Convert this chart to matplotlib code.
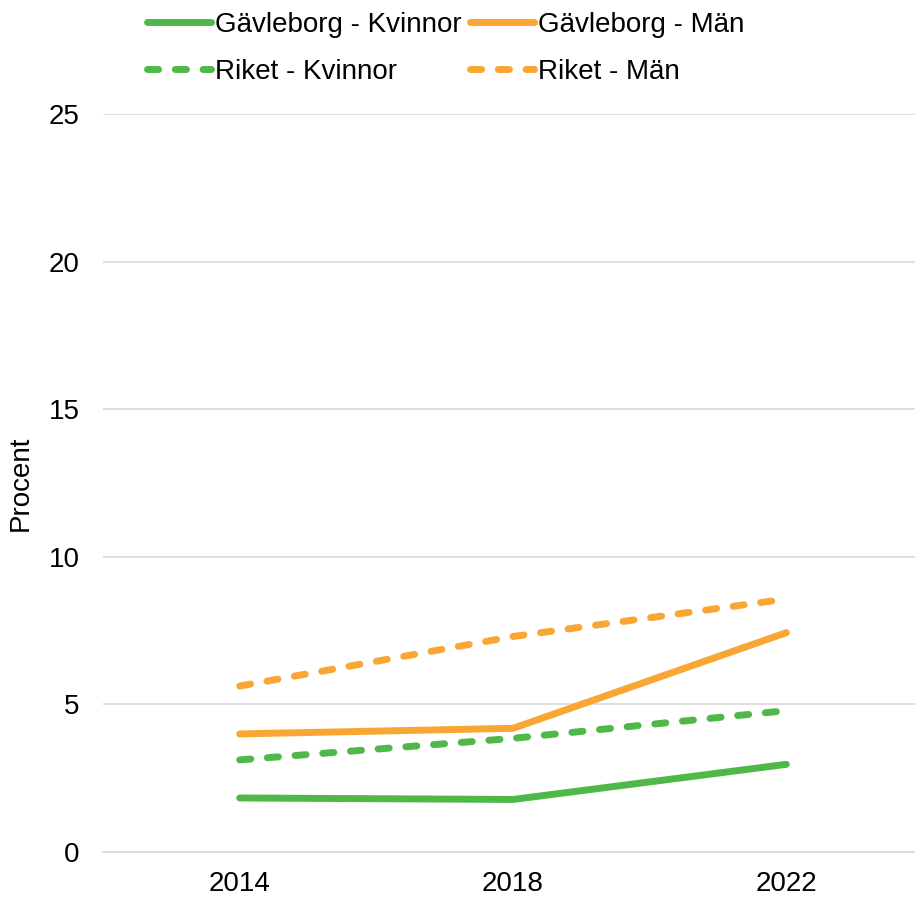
import matplotlib
matplotlib.use("Agg")
import matplotlib.pyplot as plt

years = ["2014", "2018", "2022"]
gavle_kvinnor = [1.83, 1.78, 2.97]
gavle_man = [4.0, 4.19, 7.43]
riket_kvinnor = [3.12, 3.85, 4.79]
riket_man = [5.62, 7.3, 8.57]
yticks = [0, 5, 10, 15, 20, 25]

GREEN = "#50B848"
ORANGE = "#F9A634"

plt.rcParams["font.family"] = ["Liberation Sans", "DejaVu Sans"]

fig = plt.figure(figsize=(9.15, 8.98), dpi=100)
ax = fig.add_axes([103 / 915, 46 / 898, 820 / 915, 738 / 898])

x = list(range(len(years)))
lw = 5
dash = (1.6, 2.4)
l1, = ax.plot(x, gavle_kvinnor, color=GREEN, lw=lw, solid_capstyle="round", label="Gävleborg - Kvinnor")
l2, = ax.plot(x, gavle_man, color=ORANGE, lw=lw, solid_capstyle="round", label="Gävleborg - Män")
l3, = ax.plot(x, riket_kvinnor, color=GREEN, lw=lw, dashes=dash, dash_capstyle="round", label="Riket - Kvinnor")
l4, = ax.plot(x, riket_man, color=ORANGE, lw=lw, dashes=dash, dash_capstyle="round", label="Riket - Män")

ax.set_xlim(-0.5, 2.5)
ax.set_ylim(0, 25)
ax.set_xticks(x)
ax.set_xticklabels(years)
ax.set_yticks(yticks)
ax.tick_params(axis="both", length=0, labelsize=20)
ax.tick_params(axis="y", pad=17)
ax.tick_params(axis="x", pad=14)
ax.grid(axis="y", color="#D9D9D9", lw=1.2)
ax.set_axisbelow(True)
for s in ["top", "right", "left"]:
    ax.spines[s].set_visible(False)
ax.spines["bottom"].set_color("#D9D9D9")
ax.spines["bottom"].set_linewidth(1.2)

ax.set_ylabel("Procent", fontsize=20)
ax.yaxis.set_label_coords(-0.085, 0.5)

# legend fills column-wise, so order to get row 1 = Gävleborg, row 2 = Riket
fig.legend([l1, l3, l2, l4], [l.get_label() for l in (l1, l3, l2, l4)],
           loc="upper left", bbox_to_anchor=(130 / 915, 1.005), ncol=2, frameon=False,
           fontsize=20, handlelength=2.3, handletextpad=0.15, columnspacing=0.3,
           labelspacing=0.75, borderaxespad=0.2)

fig.savefig("out.png", dpi=100)
